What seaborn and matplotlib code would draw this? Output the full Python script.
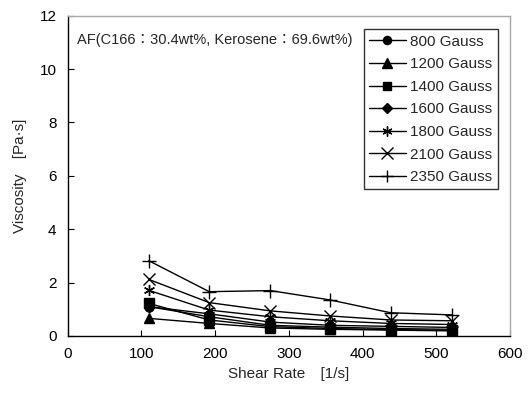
import matplotlib
matplotlib.use("Agg")
import matplotlib.pyplot as plt
import seaborn as sns
import pandas as pd

shear_rate = [110, 192, 275, 356, 438, 521]
v800 = [1.10, 0.72, 0.40, 0.33, 0.28, 0.25]
v1200 = [0.66, 0.47, 0.30, 0.25, 0.22, 0.19]
v1400 = [1.22, 0.60, 0.35, 0.28, 0.24, 0.21]
v1600 = [1.10, 0.83, 0.52, 0.40, 0.36, 0.32]
v1800 = [1.71, 0.97, 0.72, 0.57, 0.47, 0.43]
v2100 = [2.12, 1.25, 0.94, 0.75, 0.60, 0.57]
v2350 = [2.82, 1.66, 1.70, 1.35, 0.87, 0.79]
labels = ["800 Gauss", "1200 Gauss", "1400 Gauss", "1600 Gauss",
          "1800 Gauss", "2100 Gauss", "2350 Gauss"]
series = [v800, v1200, v1400, v1600, v1800, v2100, v2350]
x_ticks = [0, 100, 200, 300, 400, 500, 600]
y_ticks = [0, 2, 4, 6, 8, 10, 12]

sns.set_theme(style="white")
plt.rcParams['font.family'] = ['Liberation Sans', 'Noto Sans CJK JP', 'DejaVu Sans']

markers = ['o', '^', 's', 'D', (6, 2, 0), 'x', '+']
msizes = [6.5, 7.5, 6.5, 5.5, 8, 9, 10]

fig = plt.figure(figsize=(5.3, 3.97), dpi=100)
ax = fig.add_axes([0.1277, 0.1537, 0.8346, 0.8068])

for lab, vals, m, ms in zip(labels, series, markers, msizes):
    df = pd.DataFrame({"x": shear_rate, "y": vals})
    sns.lineplot(data=df, x="x", y="y", ax=ax, color="black", marker=m,
                 markersize=ms, markeredgecolor="black", markerfacecolor="black",
                 markeredgewidth=1.0, linewidth=1.0, label=lab)

ax.set_xlim(0, 600)
ax.set_ylim(0, 12)
ax.set_xticks(x_ticks)
ax.set_yticks(y_ticks)
ax.tick_params(direction="in", length=4, width=0.8, colors="black",
               labelsize=11, pad=8, bottom=True, left=True)
ax.set_xlabel("Shear Rate\u3000[1/s]", fontsize=11, labelpad=4)
ax.set_ylabel("Viscosity\u3000[Pa·s]", fontsize=11, labelpad=9)

for s in ["left", "bottom"]:
    ax.spines[s].set_color("black")
    ax.spines[s].set_linewidth(1.0)
for s in ["top", "right"]:
    ax.spines[s].set_color("#a8a8a8")
    ax.spines[s].set_linewidth(1.0)

ax.text(0.021, 0.924, "AF(C166\uff1a30.4wt%, Kerosene\uff1a69.6wt%)",
        transform=ax.transAxes, fontsize=10.5, va="center", ha="left")

leg = ax.legend(loc="upper right", bbox_to_anchor=(0.972, 0.957),
                fontsize=11, frameon=True, fancybox=False, markerscale=0.9,
                handlelength=2.4, handletextpad=0.3, labelspacing=0.56,
                borderpad=0.35, borderaxespad=0.0)
leg.get_frame().set_edgecolor("black")
leg.get_frame().set_linewidth(1.0)

fig.savefig("out.png", dpi=100)
